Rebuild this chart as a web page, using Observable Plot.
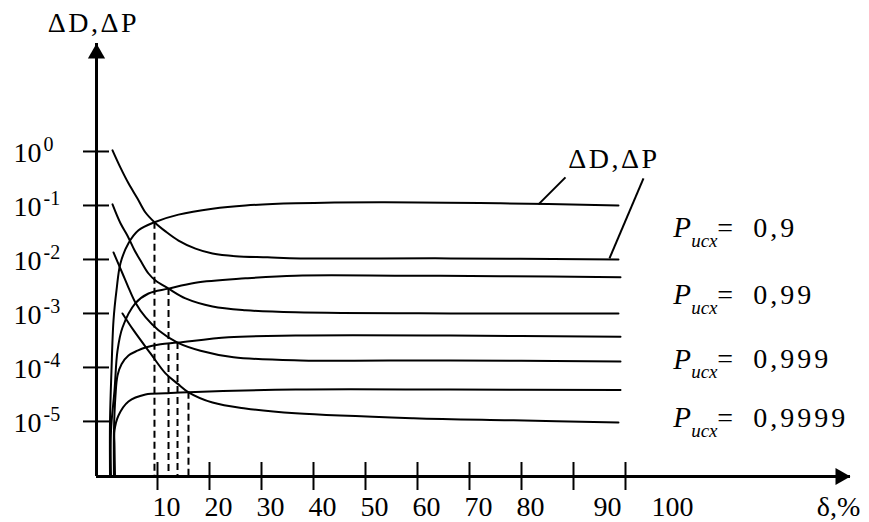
<!DOCTYPE html>
<html><head><meta charset="utf-8">
<script src="https://cdn.jsdelivr.net/npm/d3@7"></script>
<script src="https://cdn.jsdelivr.net/npm/@observablehq/plot@0.6"></script>
<style>
html,body{margin:0;padding:0;background:#fff;}
#chart svg{display:block;}
</style></head><body><div id="chart"></div>
<script>
// ---- data (δ in %, values as log10 of ΔD / ΔP) ----
const levels = ["0,9", "0,99", "0,999", "0,9999"];

const dP09_x   = [1.35, 2.88, 4.42, 6.15, 7.69, 9.42, 11.54, 14.04, 17.31, 20.58, 25, 31.15, 37.5, 66.35, 98.65];
const dP09_log = [0.02, -0.30, -0.59, -0.87, -1.13, -1.31, -1.48, -1.65, -1.80, -1.89, -1.94, -1.96, -1.98, -1.98, -2.0];
const dD09_x   = [0.87, 0.87, 1.15, 1.54, 2.12, 2.88, 4.42, 6.35, 9.42, 14.04, 20.58, 26.92, 36.54, 52.88, 75.96, 98.65];
const dD09_log = [-6.02, -4.98, -4.06, -3.13, -2.57, -2.07, -1.70, -1.46, -1.31, -1.17, -1.06, -1.0, -0.96, -0.94, -0.96, -1.0];

const dP099_x   = [1.35, 2.88, 4.23, 5.58, 6.73, 8.27, 9.62, 12.12, 15.38, 20.58, 26.92, 36.54, 66.35, 98.65];
const dP099_log = [-0.98, -1.33, -1.56, -1.83, -2.02, -2.26, -2.39, -2.54, -2.72, -2.87, -2.94, -2.98, -3.0, -3.0];
const dD099_x   = [1.06, 1.06, 1.73, 2.31, 3.27, 5.77, 8.27, 12.12, 17.31, 26.92, 36.54, 56.7, 75.96, 99.04];
const dD099_log = [-6.02, -5.17, -4.43, -3.69, -3.26, -2.81, -2.63, -2.54, -2.43, -2.35, -2.30, -2.30, -2.31, -2.33];

const dP0999_x   = [1.54, 3.27, 4.42, 5.77, 7.69, 10.19, 13.85, 18.27, 24.62, 37.5, 66.35, 99.04];
const dP0999_log = [-1.87, -2.26, -2.52, -2.80, -3.07, -3.31, -3.54, -3.69, -3.81, -3.87, -3.87, -3.89];
const dD0999_x   = [1.63, 1.63, 1.92, 2.31, 3.08, 4.42, 6.15, 7.69, 10.58, 13.85, 23.65, 36.54, 66.35, 99.04];
const dD0999_log = [-6.02, -5.17, -4.52, -4.15, -3.94, -3.78, -3.69, -3.63, -3.57, -3.54, -3.44, -3.41, -3.41, -3.43];

const dP09999_x   = [3.27, 5.38, 8.65, 11.54, 13.85, 15.96, 20.58, 26.92, 36.54, 59.23, 78.46, 98.65];
const dP09999_log = [-3.0, -3.31, -3.74, -4.11, -4.30, -4.46, -4.65, -4.76, -4.85, -4.94, -4.98, -5.02];
const dD09999_x   = [1.83, 1.73, 1.73, 2.5, 4.42, 7.69, 11.54, 15.96, 36.54, 66.35, 99.04];
const dD09999_log = [-6.02, -5.44, -5.17, -4.89, -4.63, -4.50, -4.48, -4.46, -4.41, -4.41, -4.42];

// optimum points (intersection of ΔD and ΔP for each level)
const optX   = [9.42, 12.12, 13.85, 15.96];
const optLog = [-1.31, -2.54, -3.54, -4.46];

// axes
const xTicks = [10, 20, 30, 40, 50, 60, 70, 80, 90, 100];
const xTickLabels = ["10", "20", "30", "40", "50", "60", "70", "80", "90", "100"];
const yTicks = [1, 1e-1, 1e-2, 1e-3, 1e-4, 1e-5];
const yTickExp = ["0", "-1", "-2", "-3", "-4", "-5"];
const xDomain = [-1.73, 143.27];
const yDomainLog = [-6.02, 2];

// annotations (δ, log10 value)
const levelLabelX = 109.2;
const levelLabelLog = [-1.42, -2.65, -3.85, -4.94];
const curveLabel = {x: 97.6, lg: -0.14, text: "ΔD,ΔP"};
const leaders = [
  {x1: 88.46, l1: -0.48, x2: 83.27, l2: -0.98},
  {x1: 103.46, l1: -0.50, x2: 96.92, l2: -1.98}
];

// ---- build tables ----
const curves = [
  ["ΔP 0,9", dP09_x, dP09_log], ["ΔD 0,9", dD09_x, dD09_log],
  ["ΔP 0,99", dP099_x, dP099_log], ["ΔD 0,99", dD099_x, dD099_log],
  ["ΔP 0,999", dP0999_x, dP0999_log], ["ΔD 0,999", dD0999_x, dD0999_log],
  ["ΔP 0,9999", dP09999_x, dP09999_log], ["ΔD 0,9999", dD09999_x, dD09999_log]
];
const rows = curves.flatMap(([name, xs, lg]) => xs.map((x, i) => ({series: name, x, y: 10 ** lg[i]})));
const yMin = 10 ** yDomainLog[0], yMax = 10 ** yDomainLog[1];
const opt = optX.map((x, i) => ({x, y: 10 ** optLog[i]}));
const lvl = levels.map((t, i) => ({t, y: 10 ** levelLabelLog[i]}));
const xLab = xTicks.map((v, i) => ({v, t: xTickLabels[i]}));
const yLab = yTicks.map((v, i) => ({v, e: yTickExp[i]}));

const FONT = '"Liberation Serif","Times New Roman",serif';

const chart = Plot.plot({
  width: 869, height: 522,
  marginLeft: 96, marginRight: 19, marginTop: 43, marginBottom: 46,
  style: {fontFamily: FONT, background: "white", color: "black"},
  x: {domain: xDomain, axis: null},
  y: {type: "log", domain: [yMin, yMax], axis: null},
  marks: [
    // axis lines
    Plot.ruleX([xDomain[0]], {stroke: "black", strokeWidth: 3}),
    Plot.ruleY([yMin], {stroke: "black", strokeWidth: 3}),
    // arrow heads
    Plot.dot([{x: xDomain[0], y: yMax}], {x: "x", y: "y", symbol: "triangle", r: 6.4, fill: "black", stroke: null, dy: 10}),
    Plot.dot([{x: xDomain[1], y: yMin}], {x: "x", y: "y", symbol: "triangle", r: 6.4, fill: "black", stroke: null, rotate: 90, dx: -10}),
    // ticks
    Plot.axisY({ticks: yTicks, tickSize: 26, dx: 13, strokeWidth: 2, fill: "none", label: null}),
    Plot.axisX({ticks: xTicks, tickSize: 28, dy: -14, strokeWidth: 2, fill: "none", label: null}),
    // y tick labels 10^k
    Plot.text(yLab, {y: "v", frameAnchor: "left", text: () => "10", textAnchor: "start", lineAnchor: "middle", dx: -83, dy: 2, fontSize: 28, fontFamily: FONT}),
    Plot.text(yLab, {y: "v", frameAnchor: "left", text: "e", textAnchor: "start", lineAnchor: "middle", dx: -53, dy: -7, fontSize: 20, fontFamily: FONT}),
    // x tick labels
    Plot.text(xLab.slice(0, 8), {x: "v", frameAnchor: "bottom", text: "t", lineAnchor: "middle", dx: 9, dy: 31, fontSize: 28, fontFamily: FONT}),
    Plot.text(xLab.slice(8, 9), {x: "v", frameAnchor: "bottom", text: "t", lineAnchor: "middle", dx: 34, dy: 31, fontSize: 28, fontFamily: FONT}),
    Plot.text(xLab.slice(9), {x: "v", frameAnchor: "bottom", text: "t", lineAnchor: "middle", dx: 47, dy: 31, fontSize: 28, fontFamily: FONT}),
    // axis titles
    Plot.text(["ΔD,ΔP"], {frameAnchor: "top-left", text: d => d, textAnchor: "middle", lineAnchor: "middle", dx: -3, dy: -20.5, fontSize: 28, fontFamily: FONT}),
    Plot.text(["δ,%"], {frameAnchor: "bottom-right", text: d => d, textAnchor: "middle", lineAnchor: "middle", dx: -12, dy: 31, fontSize: 28, fontFamily: FONT}),
    // dashed drop lines at intersections
    Plot.ruleX(opt, {x: "x", y1: "y", y2: yMin, stroke: "black", strokeWidth: 2, strokeDasharray: "7,4"}),
    // curves
    Plot.line(rows, {x: "x", y: "y", z: "series", stroke: "black", strokeWidth: 2, curve: "catmull-rom"}),
    // curve label with leaders
    Plot.text([curveLabel], {x: "x", y: d => 10 ** d.lg, text: "text", textAnchor: "middle", lineAnchor: "middle", dx: 1, fontSize: 28, fontFamily: FONT}),
    Plot.link(leaders, {x1: "x1", y1: d => 10 ** d.l1, x2: "x2", y2: d => 10 ** d.l2, stroke: "black", strokeWidth: 2}),
    // level labels P_исх = ...
    Plot.text(lvl, {x: levelLabelX, y: "y", text: () => "P", textAnchor: "start", lineAnchor: "middle", fontStyle: "italic", fontSize: 29, fontFamily: FONT}),
    Plot.text(lvl, {x: levelLabelX, y: "y", text: () => "исх", textAnchor: "start", lineAnchor: "middle", fontStyle: "italic", dx: 18, dy: 13, fontSize: 19, fontFamily: FONT}),
    Plot.text(lvl, {x: levelLabelX, y: "y", text: () => "=", textAnchor: "start", lineAnchor: "middle", dx: 44, fontSize: 28, fontFamily: FONT}),
    Plot.text(lvl, {x: levelLabelX, y: "y", text: "t", textAnchor: "start", lineAnchor: "middle", dx: 80, fontSize: 28, fontFamily: FONT})
  ]
});
// the original typesetting is wider than Times: widen labels slightly
d3.select(chart).selectAll("text").each(function () {
  const t = this.textContent;
  if (t === "ΔD,ΔP") this.style.letterSpacing = "2.5px";
  else if (levels.includes(t)) this.style.letterSpacing = "3px";
});
document.getElementById("chart").appendChild(chart);
</script></body></html>
